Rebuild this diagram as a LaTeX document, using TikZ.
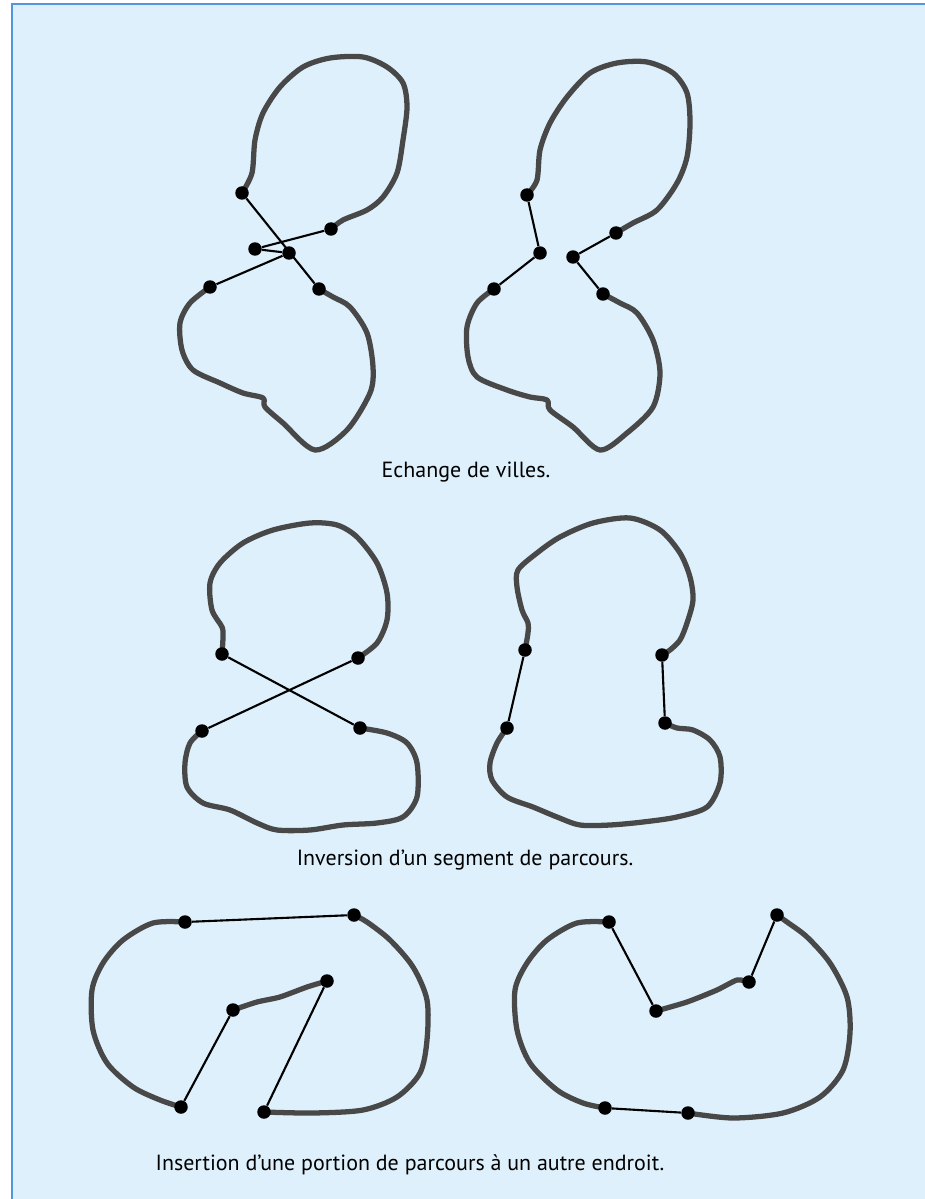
\documentclass[tikz,border=0pt]{standalone}
\usepackage{fontspec}
\setmainfont{PT Sans}
\usepackage{tikz}
\usetikzlibrary{backgrounds, positioning}
\definecolor{paper}{RGB}{222,240,251}
\definecolor{frameblue}{RGB}{80,150,225}
\definecolor{roadgray}{RGB}{72,72,72}
\tikzset{
    city/.style={circle, fill=black, draw=none, minimum size=0.27cm, inner sep=0pt},
    road/.style={draw=roadgray, line width=3pt, line join=round, line cap=round},
    swap/.style={draw=black, line width=1.2pt},
    caption/.style={font=\fontsize{12.5}{14}\selectfont, inner sep=0pt}
}

\begin{document}
\begin{tikzpicture}[x=0.02cm, y=-0.02cm]
\useasboundingbox (0,0) rectangle (925,1199);
% fond
\begin{scope}[on background layer]
\fill[paper] (12,4) rectangle (925,1199);
\draw[frameblue, line width=1.2pt] (12,1199) -- (12,4) -- (925,4);
\end{scope}

% --- echange de villes ---
\node[city] (e1a) at (242,193) {};
\node[city] (e1b) at (331,229) {};
\node[city] (e1c) at (255,249) {};
\node[city] (e1d) at (289,253) {};
\node[city] (e1e) at (210,287) {};
\node[city] (e1f) at (319,289) {};
\node[city] (e2a) at (527,195) {};
\node[city] (e2b) at (540,253) {};
\node[city] (e2c) at (494,289) {};
\node[city] (e2d) at (573,257) {};
\node[city] (e2e) at (616,233) {};
\node[city] (e2f) at (603,294) {};
\node[caption] (t1) at (466,472) {Echange de villes.};

% --- inversion ---
\node[city] (i1a) at (222,654) {};
\node[city] (i1b) at (358,658) {};
\node[city] (i1c) at (202,731) {};
\node[city] (i1d) at (360,728) {};
\node[city] (i2a) at (525,650) {};
\node[city] (i2b) at (507,728) {};
\node[city] (i2c) at (662,655) {};
\node[city] (i2d) at (665,723) {};
\node[caption] (t2) at (465,860) {Inversion d'un segment de parcours.};

% --- insertion ---
\node[city] (n1a) at (185,922) {};
\node[city] (n1b) at (354,915) {};
\node[city] (n1c) at (327,981) {};
\node[city] (n1d) at (233,1010) {};
\node[city] (n1e) at (181,1107) {};
\node[city] (n1f) at (264,1112) {};
\node[city] (n2a) at (609,922) {};
\node[city] (n2b) at (656,1011) {};
\node[city] (n2c) at (749,982) {};
\node[city] (n2d) at (777,915) {};
\node[city] (n2e) at (605,1108) {};
\node[city] (n2f) at (688,1113) {};
\node[caption] (t3) at (410,1165) {Insertion d'une portion de parcours à un autre endroit.};

\begin{scope}[on background layer]
% boucles du haut
\draw[road] plot[smooth, tension=0.5] coordinates {(e1a) (252,173) (255,140) (263,113) (280,87) (303,67) (330,58) (363,57) (387,67) (403,83) (407,107) (403,140) (397,173) (383,197) (367,210) (343,220) (e1b)};
\draw[road] plot[smooth, tension=0.5] coordinates {(e1e) (190,303) (180,323) (182,350) (193,370) (220,383) (243,393) (263,398) (265,407) (283,423) (315,450) (347,430) (370,393) (373,367) (367,333) (350,307) (333,297) (e1f)};
\draw[road] plot[smooth, tension=0.5] coordinates {(e2a) (537,180) (540,150) (550,123) (567,97) (590,73) (617,63) (647,62) (673,73) (687,93) (690,123) (687,157) (677,183) (657,210) (633,223) (e2e)};
\draw[road] plot[smooth, tension=0.5] coordinates {(e2c) (477,303) (467,327) (468,357) (477,377) (507,390) (530,397) (547,400) (550,410) (573,427) (600,450) (627,433) (653,407) (660,373) (653,340) (637,313) (620,303) (e2f)};
% boucles du milieu
\draw[road] plot[smooth, tension=0.5] coordinates {(i1a) (223,637) (222,627) (212,610) (210,583) (220,563) (243,543) (273,530) (310,523) (337,525) (357,537) (377,563) (387,593) (387,620) (377,643) (i1b)};
\draw[road] plot[smooth, tension=0.5] coordinates {(i1c) (190,743) (185,763) (187,787) (203,803) (230,810) (257,823) (277,830) (310,830) (343,825) (377,823) (403,817) (417,797) (417,763) (407,743) (387,733) (i1d)};
\draw[road] plot[smooth, tension=0.5] coordinates {(i2a) (528,633) (528,623) (522,610) (517,587) (518,570) (537,553) (560,537) (593,523) (630,518) (660,530) (680,553) (690,577) (693,600) (687,623) (680,640) (670,650) (i2c)};
\draw[road] plot[smooth, tension=0.5] coordinates {(i2b) (497,743) (490,763) (492,780) (507,797) (533,807) (557,817) (580,825) (610,825) (643,822) (677,817) (707,807) (720,783) (720,757) (710,740) (693,730) (677,728) (i2d)};
% boucles du bas
\draw[road] plot[smooth, tension=0.5] coordinates {(n1a) (153,923) (123,940) (103,963) (92,990) (93,1030) (107,1063) (133,1087) (160,1100) (n1e)};
\draw[road] plot[smooth, tension=0.5] coordinates {(n1f) (313,1113) (363,1110) (397,1097) (420,1073) (427,1040) (427,1000) (413,967) (390,940) (367,922) (n1b)};
\draw[road] plot[smooth, tension=0.4] coordinates {(n1c) (307,987) (280,997) (257,1002) (n1d)};
\draw[road] plot[smooth, tension=0.5] coordinates {(n2a) (577,923) (547,940) (527,963) (515,990) (517,1030) (530,1063) (557,1090) (583,1103) (n2e)};
\draw[road] plot[smooth, tension=0.5] coordinates {(n2f) (733,1118) (783,1113) (820,1097) (843,1070) (850,1033) (847,997) (830,963) (807,937) (787,922) (n2d)};
\draw[road] plot[smooth, tension=0.4] coordinates {(n2b) (687,1002) (717,990) (737,980) (n2c)};
\end{scope}

% segments echanges
\draw[swap] (e1a) -- (e1f);
\draw[swap] (e1b) -- (e1c);
\draw[swap] (e1c) -- (e1d);
\draw[swap] (e1d) -- (e1e);
\draw[swap] (e2a) -- (e2b);
\draw[swap] (e2b) -- (e2c);
\draw[swap] (e2d) -- (e2e);
\draw[swap] (e2d) -- (e2f);
\draw[swap] (i1a) -- (i1d);
\draw[swap] (i1b) -- (i1c);
\draw[swap] (i2a) -- (i2b);
\draw[swap] (i2c) -- (i2d);
\draw[swap] (n1a) -- (n1b);
\draw[swap] (n1d) -- (n1e);
\draw[swap] (n1c) -- (n1f);
\draw[swap] (n2a) -- (n2b);
\draw[swap] (n2c) -- (n2d);
\draw[swap] (n2e) -- (n2f);
\end{tikzpicture}
\end{document}
